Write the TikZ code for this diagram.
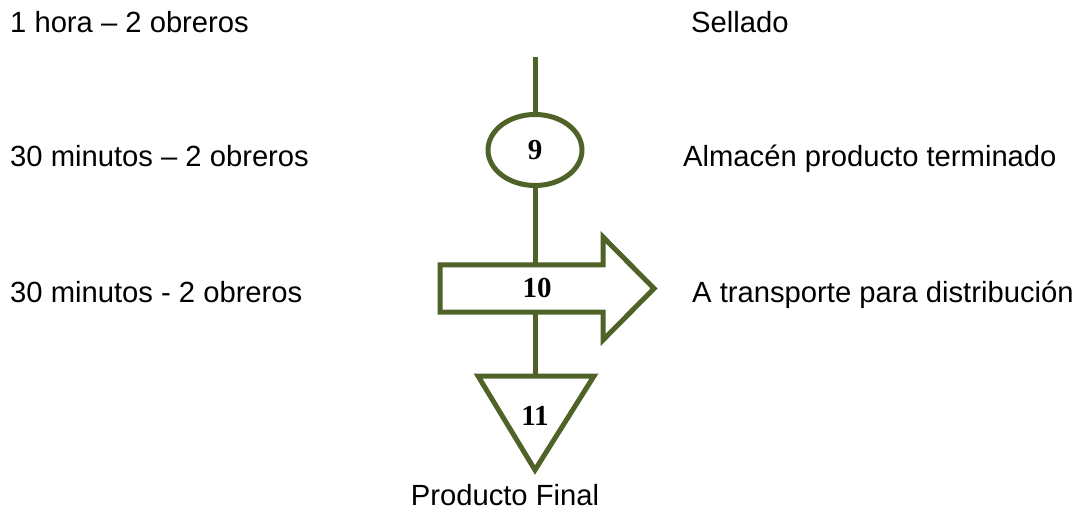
\documentclass[tikz,border=0pt]{standalone}
\usepackage{fontspec}
\setmainfont{Liberation Sans}
\newfontfamily\numfont{Liberation Serif}
\usetikzlibrary{shapes.geometric}
\definecolor{oliveline}{RGB}{79,98,40}
\begin{document}
\begin{tikzpicture}[x=1pt,y=-1pt,
  txt/.style={anchor=base west, inner sep=0pt, font=\fontsize{29.2}{34}\selectfont},
  symbol/.style={draw=oliveline, line width=5pt},
  link/.style={draw=oliveline, line width=5pt},
  num/.style={font=\numfont\bfseries\fontsize{29}{32}\selectfont, inner sep=0pt}]
\useasboundingbox (0,0) rectangle (1083,510);

% operation 9 (ellipse)
\node[symbol, ellipse, minimum width=94pt, minimum height=71pt, inner sep=0pt,
      font=\numfont\bfseries\fontsize{29}{32}\selectfont] (op9) at (535,150) {9};

% transport 10 (block arrow)
\draw[symbol] (440,265) -- (603,265) -- (603,237) -- (654,288.5) -- (603,340)
  -- (603,312) -- (440,312) -- cycle;
\node[num] (tr10) at (537,288) {10};
\coordinate (tr10n) at (535,265);
\coordinate (tr10s) at (535,312);

% storage 11 (inverted triangle)
\draw[symbol] (478,376) -- (594,376) -- (535,470) -- cycle;
\node[num] (st11) at (535,416) {11};
\coordinate (st11n) at (535,376);

% flow line
\coordinate (in9) at (535,57);
\draw[link] (in9) -- (op9.north);
\draw[link] (op9.south) -- (tr10n);
\draw[link] (tr10s) -- (st11n);

% times and crew
\node[txt] (t1) at (10,33) {1 hora – 2 obreros};
\node[txt] (t2) at (10,167) {30 minutos – 2 obreros};
\node[txt] (t3) at (10,302) {30 minutos - 2 obreros};

% activity names
\node[txt] (d1) at (691,33) {Sellado};
\node[txt] (d2) at (683,167) {Almacén producto terminado};
\node[txt] (d3) at (692,302) {A transporte para distribución};
\node[txt, anchor=base] (fin) at (505,505) {Producto Final};
\end{tikzpicture}
\end{document}
